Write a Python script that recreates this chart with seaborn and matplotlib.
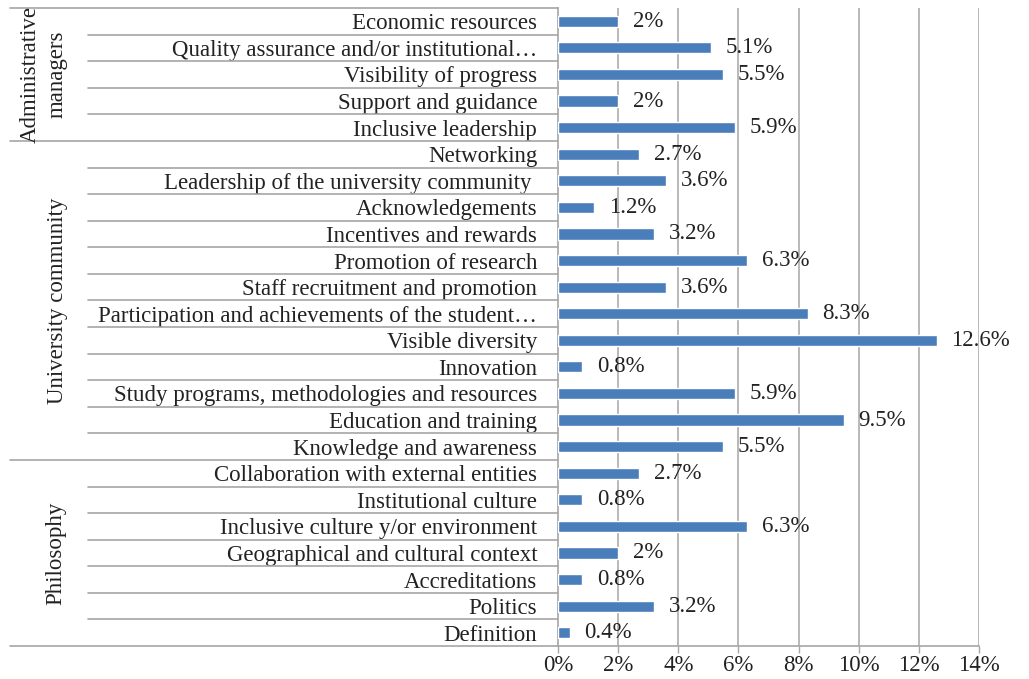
import matplotlib
matplotlib.use("Agg")
import matplotlib.pyplot as plt
import matplotlib.transforms as mtransforms
import seaborn as sns
import pandas as pd

categories = [
    "Economic resources",
    "Quality assurance and/or institutional\u2026",
    "Visibility of progress",
    "Support and guidance",
    "Inclusive leadership",
    "Networking",
    "Leadership of the university community ",
    "Acknowledgements",
    "Incentives and rewards",
    "Promotion of research",
    "Staff recruitment and promotion",
    "Participation and achievements of the student\u2026",
    "Visible diversity",
    "Innovation",
    "Study programs, methodologies and resources",
    "Education and training",
    "Knowledge and awareness",
    "Collaboration with external entities",
    "Institutional culture",
    "Inclusive culture y/or environment",
    "Geographical and cultural context",
    "Accreditations",
    "Politics",
    "Definition",
]
percentages = [2, 5.1, 5.5, 2, 5.9, 2.7, 3.6, 1.2, 3.2, 6.3, 3.6, 8.3, 12.6,
               0.8, 5.9, 9.5, 5.5, 2.7, 0.8, 6.3, 2, 0.8, 3.2, 0.4]
groups = ["Administrative\nmanagers", "University community", "Philosophy"]
group_sizes = [5, 12, 7]
x_ticks = [0, 2, 4, 6, 8, 10, 12, 14]

df = pd.DataFrame({"category": categories, "value": percentages})

sns.set_style("white")
plt.rcParams["font.family"] = ["Liberation Serif", "DejaVu Serif"]

W, H = 1029, 679
fig = plt.figure(figsize=(W / 100, H / 100), dpi=100)
left_px, right_px, top_px, bottom_px = 558, 979, 8, 646
ax = fig.add_axes([left_px / W, 1 - bottom_px / H,
                   (right_px - left_px) / W, (bottom_px - top_px) / H])

bar_color = "#4A7EBB"
grid_color = "#A6A6A6"
text_color = "#222222"
fs = 16.5

sns.barplot(data=df, x="value", y="category", orient="h", color=bar_color,
            width=0.42, saturation=1, ax=ax, zorder=3)

n = len(categories)
ax.set_xlim(0, 14)
ax.set_ylim(n - 0.5, -0.5)
ax.set_xticks(x_ticks)
ax.set_xticklabels([f"{t}%" for t in x_ticks], fontsize=fs, color=text_color)
ax.set_xlabel("")
ax.set_ylabel("")
ax.set_yticks(range(n))
ax.set_yticklabels(categories, fontsize=fs, color=text_color)
ax.tick_params(axis="y", length=0, pad=15)
ax.tick_params(axis="x", direction="out", length=5, width=1, color=grid_color, pad=1.5,
               bottom=True)

for x in x_ticks[1:]:
    ax.axvline(x, color=grid_color, lw=1.1, zorder=1)

for side in ["top", "right"]:
    ax.spines[side].set_visible(False)
for side in ["left", "bottom"]:
    ax.spines[side].set_color(grid_color)
    ax.spines[side].set_linewidth(1.2)

# value labels at the bar ends
ax.bar_label(ax.containers[0], labels=[f"{v:g}%" for v in percentages],
             padding=10.5, fontsize=fs, color=text_color)

# row and group separators in the category column
trans = mtransforms.blended_transform_factory(fig.transFigure, ax.transData)
boundaries = [-0.5]
acc = -0.5
for s in group_sizes:
    acc += s
    boundaries.append(acc)
for i in range(n - 1):
    yb = i + 0.5
    if yb in boundaries:
        continue
    ax.plot([88 / W, left_px / W], [yb, yb], transform=trans, color=grid_color,
            lw=1.2, clip_on=False)
for yb in boundaries:
    ax.plot([10 / W, left_px / W], [yb, yb], transform=trans, color=grid_color,
            lw=1.2, clip_on=False)

# group names, rotated in their own column
group_x = [44, 58, 56]
for name, gx, lo, hi in zip(groups, group_x, boundaries[:-1], boundaries[1:]):
    ax.text(gx / W, (lo + hi) / 2, name, transform=trans, rotation=90,
            ha="center", va="center", fontsize=fs, color=text_color,
            multialignment="center", linespacing=1.35)

fig.savefig("out.png", dpi=100)
